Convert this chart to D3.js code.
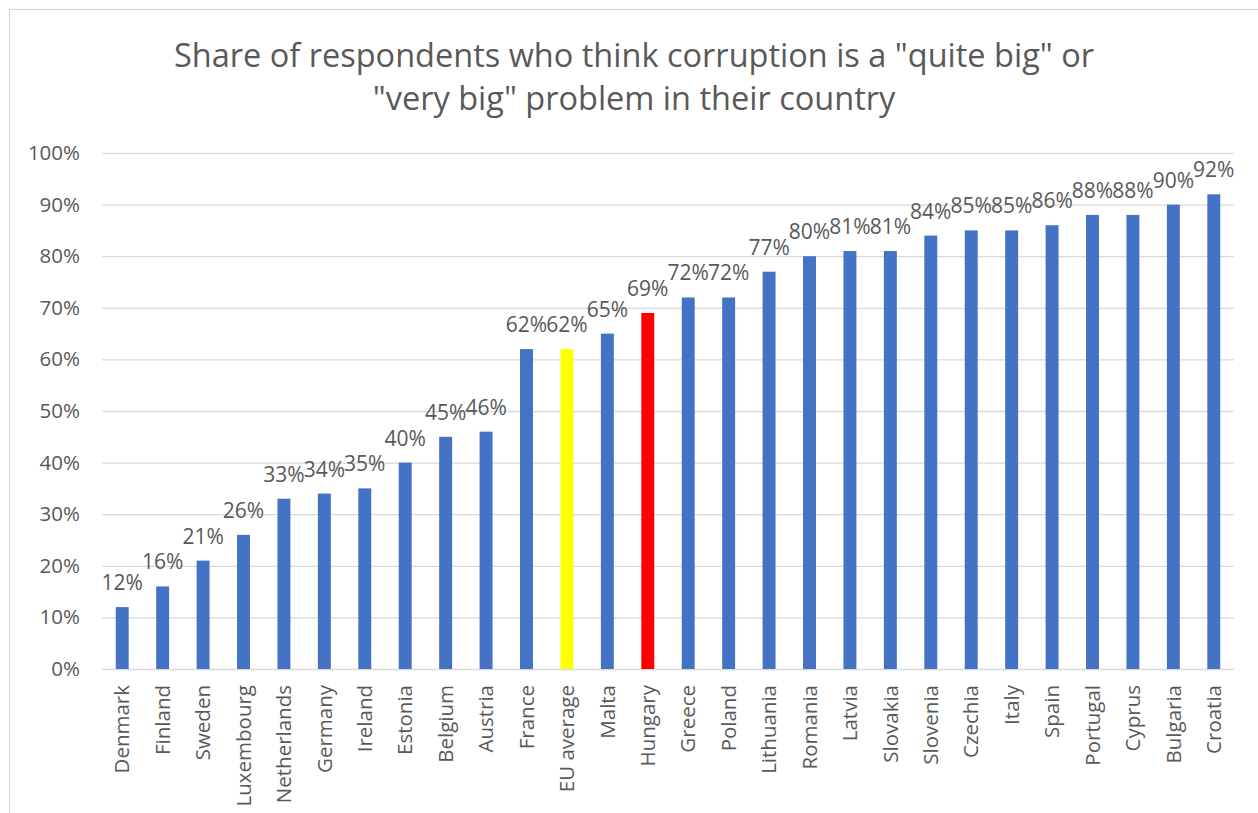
<!DOCTYPE html>
<html>
<head>
<meta charset="utf-8">
<script src="https://cdn.jsdelivr.net/npm/d3@7/dist/d3.min.js"></script>
<style>
  html, body { margin: 0; padding: 0; background: #ffffff; }
  svg text { font-family: "Open Sans", "Liberation Sans", sans-serif; fill: #595959; }
</style>
</head>
<body>
<svg id="chart" width="1258" height="813"></svg>
<script>
// Survey results: share answering "quite big" or "very big" problem
const countries = ["Denmark", "Finland", "Sweden", "Luxembourg", "Netherlands", "Germany", "Ireland",
  "Estonia", "Belgium", "Austria", "France", "EU average", "Malta", "Hungary", "Greece", "Poland",
  "Lithuania", "Romania", "Latvia", "Slovakia", "Slovenia", "Czechia", "Italy", "Spain", "Portugal",
  "Cyprus", "Bulgaria", "Croatia"];
const shares = [12, 16, 21, 26, 33, 34, 35, 40, 45, 46, 62, 62, 65, 69, 72, 72, 77, 80, 81, 81, 84,
  85, 85, 86, 88, 88, 90, 92];
const yTicks = [0, 10, 20, 30, 40, 50, 60, 70, 80, 90, 100];
const titleLines = ['Share of respondents who think corruption is a "quite big" or',
  '"very big" problem in their country'];
const highlight = { "EU average": "#FFFF00", "Hungary": "#FF0000" };
const baseColor = "#4472C4";

const svg = d3.select("#chart");
const plot = { left: 102, right: 1234, top: 153, bottom: 669 };

// outer chart frame
svg.append("rect")
  .attr("x", 9.5).attr("y", 9.5)
  .attr("width", 1400).attr("height", 1000)
  .attr("fill", "none").attr("stroke", "#d9d9d9").attr("stroke-width", 1.3);

// title
svg.append("g").selectAll("text").data(titleLines).join("text")
  .attr("x", 634)
  .attr("y", (d, i) => 67 + i * 43)
  .attr("text-anchor", "middle")
  .style("font-size", "32.5px")
  .text(d => d);

const x = d3.scaleBand().domain(countries).range([plot.left, plot.right]).paddingInner(0.68).paddingOuter(0.34);
const y = d3.scaleLinear().domain([0, 100]).range([plot.bottom, plot.top]);

// gridlines and y axis labels
const yAxis = d3.axisLeft(y).tickValues(yTicks)
  .tickSize(-(plot.right - plot.left)).tickPadding(22)
  .tickFormat(d => d + "%");
const gy = svg.append("g").attr("transform", `translate(${plot.left},0)`).call(yAxis);
gy.select(".domain").remove();
gy.selectAll(".tick line").attr("stroke", "#d9d9d9").attr("stroke-width", 1.3);
gy.selectAll(".tick text").style("font-size", "20.5px").attr("fill", "#595959");

// bars
svg.append("g").selectAll("rect").data(countries).join("rect")
  .attr("x", d => x(d))
  .attr("width", x.bandwidth())
  .attr("y", (d, i) => y(shares[i]))
  .attr("height", (d, i) => y(0) - y(shares[i]))
  .attr("fill", d => highlight[d] || baseColor);

// value labels
svg.append("g").selectAll("text").data(countries).join("text")
  .attr("x", d => x(d) + x.bandwidth() / 2)
  .attr("y", (d, i) => y(shares[i]) - 17)
  .attr("text-anchor", "middle")
  .style("font-size", "21px")
  .text((d, i) => shares[i] + "%");

// category axis with rotated labels
const xAxis = d3.axisBottom(x).tickSize(0).tickPadding(0);
const gx = svg.append("g").attr("transform", `translate(0,${plot.bottom})`).call(xAxis);
gx.select(".domain").remove();
gx.selectAll(".tick text")
  .style("font-size", "20.5px")
  .attr("fill", "#595959")
  .attr("text-anchor", "end")
  .attr("dy", "0.35em")
  .attr("transform", "translate(0,16) rotate(-90)")
  .attr("x", 0).attr("y", 0);
</script>
</body>
</html>
